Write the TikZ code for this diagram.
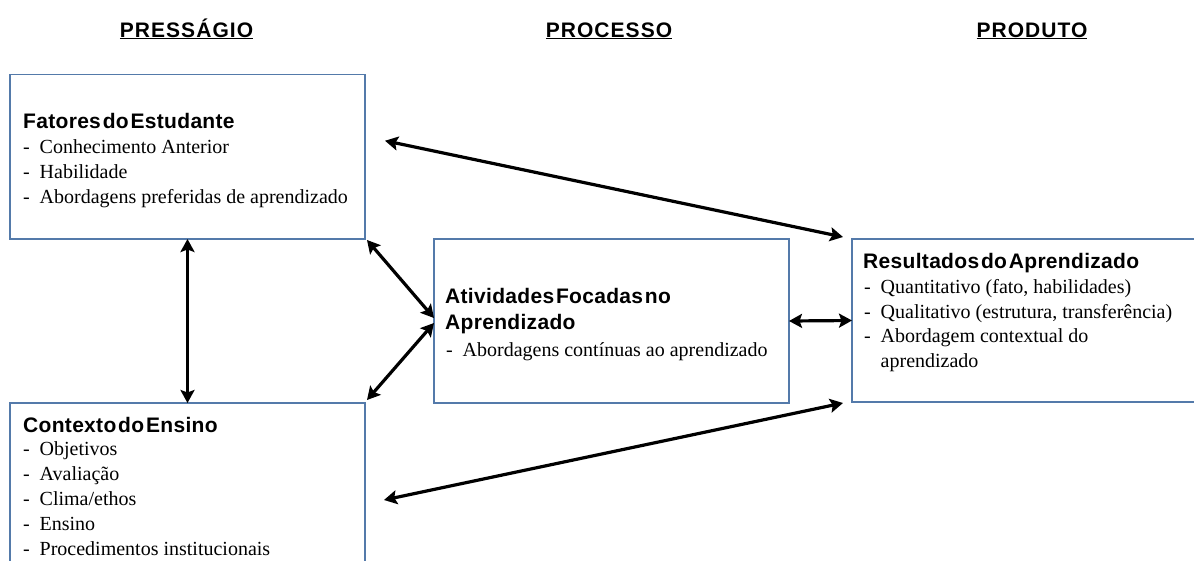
\documentclass[tikz,border=0pt]{standalone}
\usepackage{fontspec}
\setmainfont{Liberation Serif}
\newfontfamily\hdfont[LetterSpace=5]{Liberation Sans}
\newfontfamily\ttlfont[LetterSpace=1.5,WordSpace=0.3]{Liberation Sans}
\usetikzlibrary{arrows.meta}
\definecolor{boxblue}{RGB}{84,122,170}
\tikzset{
  box/.style={draw=boxblue, line width=1.1pt, rectangle, anchor=north west, inner sep=0pt, outer sep=0pt},
  hdr/.style={anchor=base, inner sep=0pt, font=\hdfont\bfseries\fontsize{21}{24}\selectfont},
  ttl/.style={anchor=base west, inner sep=0pt, font=\ttlfont\bfseries\fontsize{21}{24}\selectfont},
  ln/.style={anchor=base west, inner sep=0pt, font=\fontsize{20}{24}\selectfont},
  arr/.style={{Stealth[length=13pt,width=14pt,inset=2.5pt]}-{Stealth[length=13pt,width=14pt,inset=2.5pt]}, line width=3.2pt, black}
}
\newcommand{\dashitem}[1]{\makebox[16.5pt][l]{-}#1}
\begin{document}
\begin{tikzpicture}[x=1pt,y=1pt]
\useasboundingbox (0,0) rectangle (1194,-560);
\fill[white] (0,0) rectangle (1194,-560);

% headers
\node[hdr] (h1) at (186.5,-37) {\underline{PRESSÁGIO}};
\node[hdr] (h2) at (609,-37) {\underline{PROCESSO}};
\node[hdr] (h3) at (1032,-37) {\underline{PRODUTO}};

% boxes
\node[box, minimum width=355pt, minimum height=164.5pt] (b1) at (10,-74.5) {};
\node[box, minimum width=355pt, minimum height=180pt] (b2) at (10,-403) {};
\node[box, minimum width=355pt, minimum height=164pt] (b3) at (434,-239) {};
\node[box, minimum width=360pt, minimum height=163pt] (b4) at (852,-239) {};

% box 1 text
\node[ttl] (t1) at (23,-128) {Fatores do Estudante};
\node[ln] (t1a) at (23,-153) {\dashitem{Conhecimento Anterior}};
\node[ln] (t1b) at (23,-178) {\dashitem{Habilidade}};
\node[ln] (t1c) at (23,-203) {\dashitem{Abordagens preferidas de aprendizado}};

% box 2 text
\node[ttl] (t2) at (23,-432) {Contexto do Ensino};
\node[ln] (t2a) at (23,-455.5) {\dashitem{Objetivos}};
\node[ln] (t2b) at (23,-480.5) {\dashitem{Avaliação}};
\node[ln] (t2c) at (23,-505.5) {\dashitem{Clima/ethos}};
\node[ln] (t2d) at (23,-530.5) {\dashitem{Ensino}};
\node[ln] (t2e) at (23,-555.5) {\dashitem{Procedimentos institucionais}};

% box 3 text
\node[ttl] (t3) at (445,-303) {Atividades Focadas no};
\node[ttl] (t3x) at (445,-329) {Aprendizado};
\node[ln] (t3a) at (446,-356) {\dashitem{Abordagens contínuas ao aprendizado}};

% box 4 text
\node[ttl] (t4) at (863,-268) {Resultados do Aprendizado};
\node[ln] (t4a) at (864,-293) {\dashitem{Quantitativo (fato, habilidades)}};
\node[ln] (t4b) at (864,-318) {\dashitem{Qualitativo (estrutura, transferência)}};
\node[ln] (t4c) at (864,-342.5) {\dashitem{Abordagem contextual do}};
\node[ln] (t4d) at (880.5,-367) {aprendizado};

% connector free ends
\coordinate (a1s) at ([shift={(20,16)}]b1.east);
\coordinate (a1e) at ([shift={(-9,2)}]b4.north west);
\coordinate (a6s) at ([shift={(-9,-1)}]b4.south west);
\coordinate (a6e) at ([shift={(19,-97)}]b2.north east);

% connectors
\draw[arr] (a1s) -- (a1e);
\draw[arr] (b1.south) -- (b2.north);
\draw[arr] ([shift={(2,-1)}]b1.south east) -- ([yshift=3pt]b3.west);
\draw[arr] ([yshift=-2pt]b3.west) -- ([shift={(2,3)}]b2.north east);
\draw[arr] (b3.east) -- (b4.west);
\draw[arr] (a6s) -- (a6e);
\end{tikzpicture}
\end{document}
